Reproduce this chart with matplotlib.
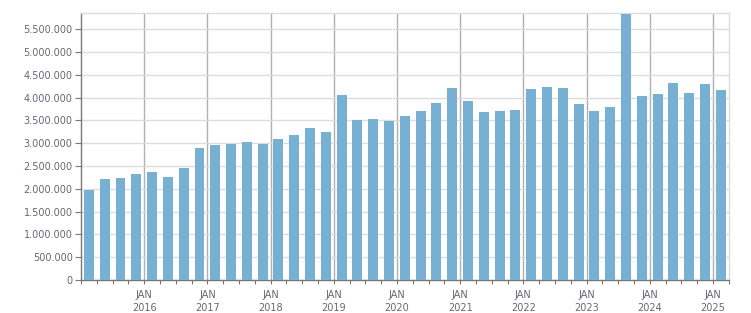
import matplotlib.pyplot as plt
import matplotlib.ticker as mticker
import numpy as np

# quarterly values, Q1 2015 .. Q1 2025
values = [
    1976000, 2217000, 2239000, 2327000,   # 2015
    2371000, 2261000, 2458000, 2897000,   # 2016
    2963000, 2985000, 3029000, 2985000,   # 2017
    3094000, 3180000, 3330000, 3250000,   # 2018
    4060000, 3510000, 3533000, 3490000,   # 2019
    3600000, 3710000, 3880000, 4210000,   # 2020
    3925000, 3686000, 3710000, 3730000,   # 2021
    4190000, 4240000, 4210000, 3860000,   # 2022
    3710000, 3800000, 5840000, 4040000,   # 2023
    4080000, 4320000, 4100000, 4300000,   # 2024
    4170000,                              # 2025
]
years = list(range(2016, 2026))
year_labels = ["JAN\n%d" % y for y in years]

label_col = "#666677"

fig = plt.figure(figsize=(7.51, 3.13), dpi=100)
ax = fig.add_axes([81 / 751, 32.9 / 313, (728.7 - 81) / 751, (280.1 - 13.3) / 313])

x = np.arange(len(values)) + 0.5
ax.bar(x, values, width=0.63, color="#77b0d2", zorder=3)

ax.set_xlim(0, len(values))
ax.set_ylim(0, 5850000)

# year ticks at each JAN, quarter minor ticks
ax.set_xticks([4 * (y - 2015) for y in years])
ax.set_xticklabels(year_labels, fontsize=7, color=label_col, linespacing=1.35)
ax.set_xticks(np.arange(0, len(values) + 1), minor=True)
ax.set_yticks(np.arange(0, 5500001, 500000))
ax.yaxis.set_major_formatter(mticker.FuncFormatter(lambda v, p: "{:,.0f}".format(v).replace(",", ".")))
ax.tick_params(axis="y", labelsize=7, labelcolor=label_col, length=4, width=0.8, color="#777777", pad=2)
ax.tick_params(axis="x", which="both", length=3, width=0.8, color="#777777", pad=4)

ax.grid(axis="y", color="#dddddd", linewidth=1, zorder=0)
ax.grid(axis="x", which="major", color="#b0b0b0", linewidth=1, zorder=1)

for side in ["left", "bottom"]:
    ax.spines[side].set_color("#777777")
    ax.spines[side].set_linewidth(1)
for side in ["top", "right"]:
    ax.spines[side].set_color("#dddddd")
    ax.spines[side].set_linewidth(1)

plt.savefig("out.png", dpi=100)
